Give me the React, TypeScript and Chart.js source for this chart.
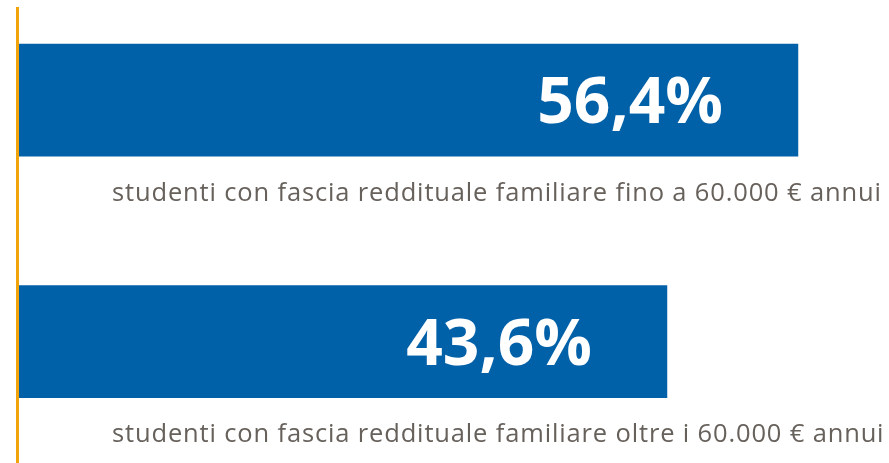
import { useEffect, useRef } from "react";
import { Chart, registerables } from "chart.js";

Chart.register(...registerables);

const categories: string[] = [
  "studenti con fascia reddituale familiare fino a 60.000 € annui",
  "studenti con fascia reddituale familiare oltre i 60.000 € annui",
];
const values: number[] = [56.4, 43.6];

const X_MIN = -19.9;
const X_MAX = 65.3;

const BAR_COLOR = "#0060A8";
const LINE_COLOR = "#F0A30A";
const TEXT_COLOR = "#67615C";

const fmt = (v: number) => v.toFixed(1).replace(".", ",") + "%";

const textPlugin = {
  id: "barTexts",
  afterDatasetsDraw(chart: any) {
    const ctx = chart.ctx as CanvasRenderingContext2D;
    const meta = chart.getDatasetMeta(0);
    meta.data.forEach((bar: any, i: number) => {
      const { x, y, height } = bar.getProps(["x", "y", "height"], true);
      ctx.save();
      ctx.fillStyle = "#ffffff";
      ctx.font = "bold 64px 'Open Sans'";
      ctx.textAlign = "right";
      ctx.textBaseline = "alphabetic";
      ctx.fillText(fmt(values[i]), x - 75, y + 23);
      ctx.font = "25.5px 'Open Sans'";
      (ctx as any).letterSpacing = "0.85px";
      ctx.fillStyle = TEXT_COLOR;
      ctx.textAlign = "left";
      ctx.fillText(categories[i], chart.chartArea.left + 95, y + height / 2 + 44.5);
      ctx.restore();
    });
  },
};

export default function App() {
  const ref = useRef<HTMLCanvasElement | null>(null);

  useEffect(() => {
    document.body.style.margin = "0";
    let chart: Chart | null = null;
    let cancelled = false;
    const make = () => {
      if (cancelled || !ref.current) return;
      chart = new Chart(ref.current, {
        type: "bar",
        data: {
          datasets: [
            {
              data: values.map((v, i) => ({ x: v, y: i })) as any,
              backgroundColor: BAR_COLOR,
              borderWidth: 0,
              barThickness: 112,
              base: X_MIN,
            } as any,
          ],
        },
        options: {
          indexAxis: "y",
          animation: false,
          responsive: false,
          events: [],
          layout: { padding: { left: 17, top: 8, right: 0, bottom: 0 } },
          plugins: { legend: { display: false }, tooltip: { enabled: false } },
          scales: {
            x: { type: "linear", display: false, min: X_MIN, max: X_MAX },
            y: {
              type: "linear",
              reverse: true,
              offset: false,
              grace: 0,
              min: -0.381,
              max: 1.502,
              ticks: { display: false },
              grid: { display: false, offset: false },
              border: { display: true, color: LINE_COLOR, width: 3, z: 1 },
              afterFit: (s: any) => {
                s.width = 0;
              },
            } as any,
          },
        },
        plugins: [textPlugin],
      });
    };
    const fontsReady = (document as any).fonts
      ? Promise.all([
          (document as any).fonts.load("bold 64px 'Open Sans'"),
          (document as any).fonts.load("25.5px 'Open Sans'"),
        ]).catch(() => null)
      : Promise.resolve(null);
    fontsReady.then(make);
    return () => {
      cancelled = true;
      if (chart) chart.destroy();
    };
  }, []);

  return (
    <div style={{ width: 889, height: 463, background: "#fff" }}>
      <canvas ref={ref} width={889} height={463} style={{ display: "block" }} />
    </div>
  );
}
